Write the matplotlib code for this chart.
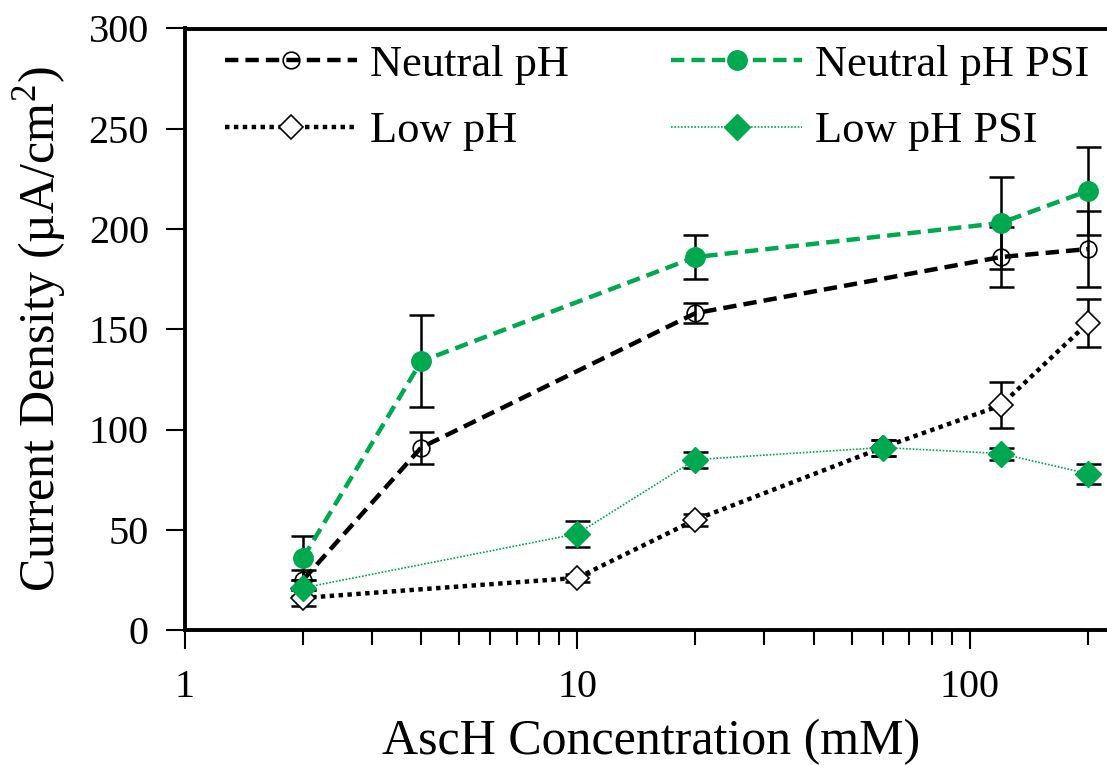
import matplotlib
matplotlib.use("Agg")
import matplotlib.pyplot as plt
import numpy as np

plt.rcParams['font.family'] = ['Liberation Serif', 'DejaVu Serif']
plt.rcParams['mathtext.fontset'] = 'custom'
plt.rcParams['mathtext.rm'] = 'Liberation Serif'

# data
x_neutral = [2, 4, 20, 120, 200]
neutral = [25, 91, 158, 186, 190]
neutral_err = [5, 8, 5, 15, 19]
neutral_psi = [36, 134, 186, 203, 219]
neutral_psi_err = [11, 23, 11, 23, 22]

x_low = [2, 10, 20, 60, 120, 200]
low = [16, 26, 55, 91, 112, 153]
low_err = [4, 2, 3, 4, 11.5, 12]
low_psi = [21, 48, 85, 91, 88, 78]
low_psi_err = [4, 6.5, 4, 4, 3, 5]

green = '#00a94f'

fig = plt.figure(figsize=(11.07, 7.65), dpi=100)
ax = fig.add_axes([185/1107, 1 - 630/765, 1 - 185/1107 + 0.01, (630 - 28.5)/765])

ebkw = dict(ecolor='black', elinewidth=1.8, capsize=9, capthick=1.8, zorder=2)

ax.errorbar(x_low, low, yerr=low_err, fmt='none', **ebkw)
ax.errorbar(x_low, low_psi, yerr=low_psi_err, fmt='none', **ebkw)
ax.errorbar(x_neutral, neutral, yerr=neutral_err, fmt='none', **ebkw)
ax.errorbar(x_neutral, neutral_psi, yerr=neutral_psi_err, fmt='none', **ebkw)

ax.plot(x_neutral, neutral, color='black', ls=(0, (3, 1.6)), lw=3.2,
        marker='o', ms=12, mfc='none', mec='black', mew=1.2,
        label='Neutral pH', zorder=3)
ax.plot(x_neutral, neutral_psi, color=green, ls=(0, (3, 1.6)), lw=3.2,
        marker='o', ms=14, mfc=green, mec=green,
        label='Neutral pH PSI', zorder=3)
ax.plot(x_low, low, color='black', ls=(0, (1, 1)), lw=3.2,
        marker='D', ms=12, mfc='white', mec='black', mew=1.2,
        label='Low pH', zorder=3)
ax.plot(x_low, low_psi, color=green, ls=(0, (1, 1)), lw=1.2,
        marker='D', ms=13, mfc=green, mec=green,
        label='Low pH PSI', zorder=4)

ax.set_xscale('log')
ax.set_xlim(1, 239)
ax.set_ylim(0, 300)
ax.set_yticks(np.arange(0, 301, 50))
ax.set_xticks([1, 10, 100])
ax.set_xticklabels(['1', '10', '100'])

for s in ['left', 'bottom', 'top']:
    ax.spines[s].set_linewidth(2.8)
ax.spines['right'].set_visible(False)

ax.tick_params(axis='both', which='major', direction='out', length=14, width=1.5,
               labelsize=29, colors='black')
ax.tick_params(axis='x', which='minor', direction='out', length=11, width=1.5)
ax.tick_params(axis='y', which='major', pad=12)
ax.tick_params(axis='x', which='major', pad=14)

ax.set_xlabel('AscH Concentration (mM)', fontsize=36, labelpad=9)
ax.set_ylabel('Current Density (µA/cm$^2$)', fontsize=36, labelpad=14)

handles, labels = ax.get_legend_handles_labels()
order = [0, 2, 1, 3]
ax.legend([handles[i] for i in order], [labels[i] for i in order],
          ncol=2, frameon=False, fontsize=32, loc='upper left',
          bbox_to_anchor=(0.01, 1.025), handlelength=2.95, columnspacing=2.3,
          handletextpad=0.3, labelspacing=0.6, borderaxespad=0.3)

fig.savefig('out.png', dpi=100)
